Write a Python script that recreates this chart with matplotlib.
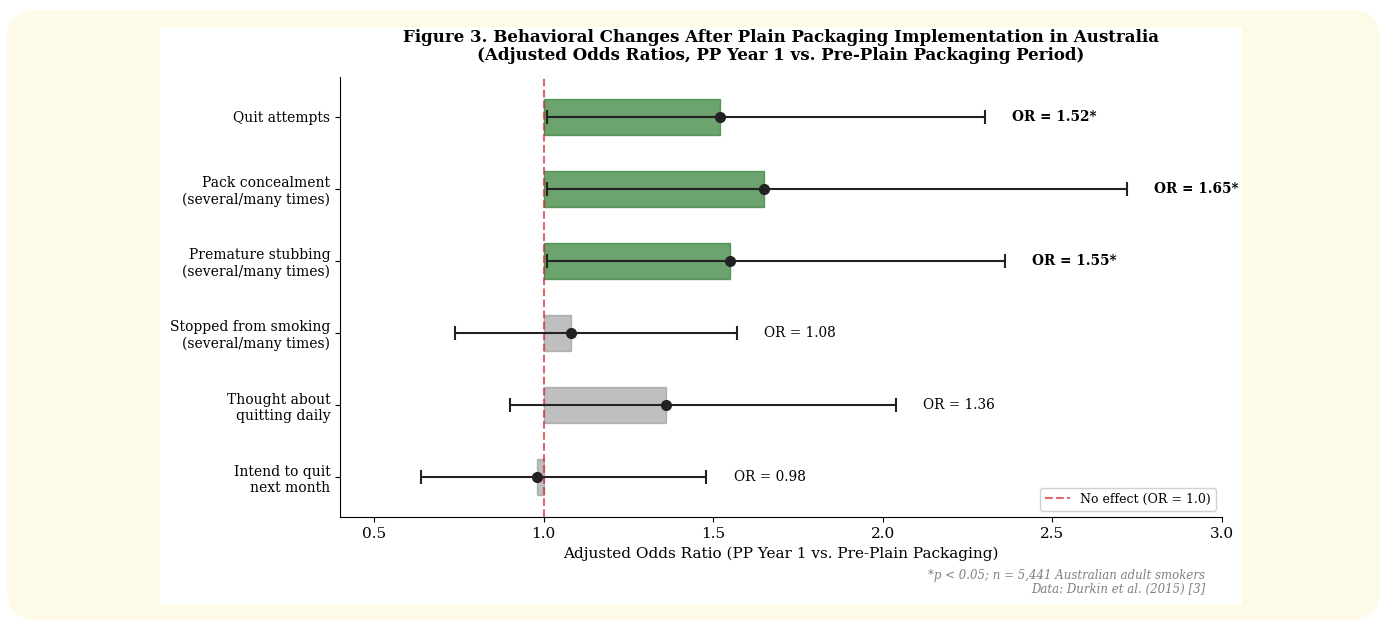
import matplotlib
matplotlib.use("Agg")
import matplotlib.pyplot as plt
from matplotlib.patches import FancyBboxPatch, Rectangle
import numpy as np

# Behaviours (bottom to top) with adjusted odds ratios and 95% CIs
behaviours = ["Intend to quit\nnext month",
              "Thought about\nquitting daily",
              "Stopped from smoking\n(several/many times)",
              "Premature stubbing\n(several/many times)",
              "Pack concealment\n(several/many times)",
              "Quit attempts"]
odds_ratio = [0.98, 1.36, 1.08, 1.55, 1.65, 1.52]
ci_low = [0.64, 0.90, 0.74, 1.01, 1.01, 1.01]
ci_high = [1.48, 2.04, 1.57, 2.36, 2.72, 2.30]
significant = [False, False, False, True, True, True]

plt.rcParams['font.family'] = ['DejaVu Serif']

fig = plt.figure(figsize=(13.86, 6.21), dpi=100)
fig.patch.set_facecolor("white")

# cream panel and white card behind the chart
fig.patches.append(FancyBboxPatch((0.07, 0.01), 13.73, 6.10,
                                  boxstyle="round,pad=0,rounding_size=0.3",
                                  transform=fig.dpi_scale_trans,
                                  facecolor="#fefae8", edgecolor="none", zorder=-2))
fig.patches.append(Rectangle((1.60, 0.16), 10.82, 5.78,
                             transform=fig.dpi_scale_trans,
                             facecolor="white", edgecolor="none", zorder=-1))

ax = fig.add_axes([340/1386, 1 - 517/621, 882/1386, 440/621])
ax.set_facecolor("white")

y = np.arange(len(behaviours))
or_arr = np.array(odds_ratio)
colors = ["#2e7d32" if s else "gray" for s in significant]
alphas = [0.7 if s else 0.5 for s in significant]

for i in range(len(y)):
    ax.barh(y[i], or_arr[i] - 1.0, left=1.0, height=0.5,
            color=colors[i], alpha=alphas[i], edgecolor=colors[i], linewidth=1)

err = [or_arr - np.array(ci_low), np.array(ci_high) - or_arr]
ax.errorbar(or_arr, y, xerr=err, fmt='o', color='#222222', ecolor='#222222',
            markersize=7, capsize=5, elinewidth=1.5, capthick=1.5, zorder=5)

ax.axvline(1.0, color='#d62728', alpha=0.7, linestyle='--', linewidth=1.5,
           label='No effect (OR = 1.0)', zorder=4)

for i in range(len(y)):
    if significant[i]:
        ax.text(ci_high[i] + 0.08, y[i], f"OR = {odds_ratio[i]:.2f}*",
                va='center', ha='left', fontsize=9.8, fontweight='bold')
    else:
        ax.text(ci_high[i] + 0.08, y[i], f"OR = {odds_ratio[i]:.2f}",
                va='center', ha='left', fontsize=9.8)

ax.set_yticks(y)
ax.set_yticklabels(behaviours, fontsize=10)
ax.set_xlim(0.4, 3.0)
ax.set_ylim(-0.55, 5.55)
ax.set_xticks([0.5, 1.0, 1.5, 2.0, 2.5, 3.0])
ax.tick_params(axis='x', labelsize=11)
ax.set_xlabel("Adjusted Odds Ratio (PP Year 1 vs. Pre-Plain Packaging)", fontsize=11)
ax.spines['top'].set_visible(False)
ax.spines['right'].set_visible(False)

ax.set_title("Figure 3. Behavioral Changes After Plain Packaging Implementation in Australia\n"
             "(Adjusted Odds Ratios, PP Year 1 vs. Pre-Plain Packaging Period)",
             fontsize=12, fontweight='bold', pad=12, linespacing=1.1)

ax.legend(loc='lower right', fontsize=9, framealpha=0.9)

fig.text(1205/1386, 1 - 575/621, "*p < 0.05; n = 5,441 Australian adult smokers",
         ha='right', va='center', fontsize=8.5, style='italic', color='gray')
fig.text(1205/1386, 1 - 589/621, "Data: Durkin et al. (2015) [3]",
         ha='right', va='center', fontsize=8.5, style='italic', color='gray')

fig.savefig("out.png", dpi=100)
